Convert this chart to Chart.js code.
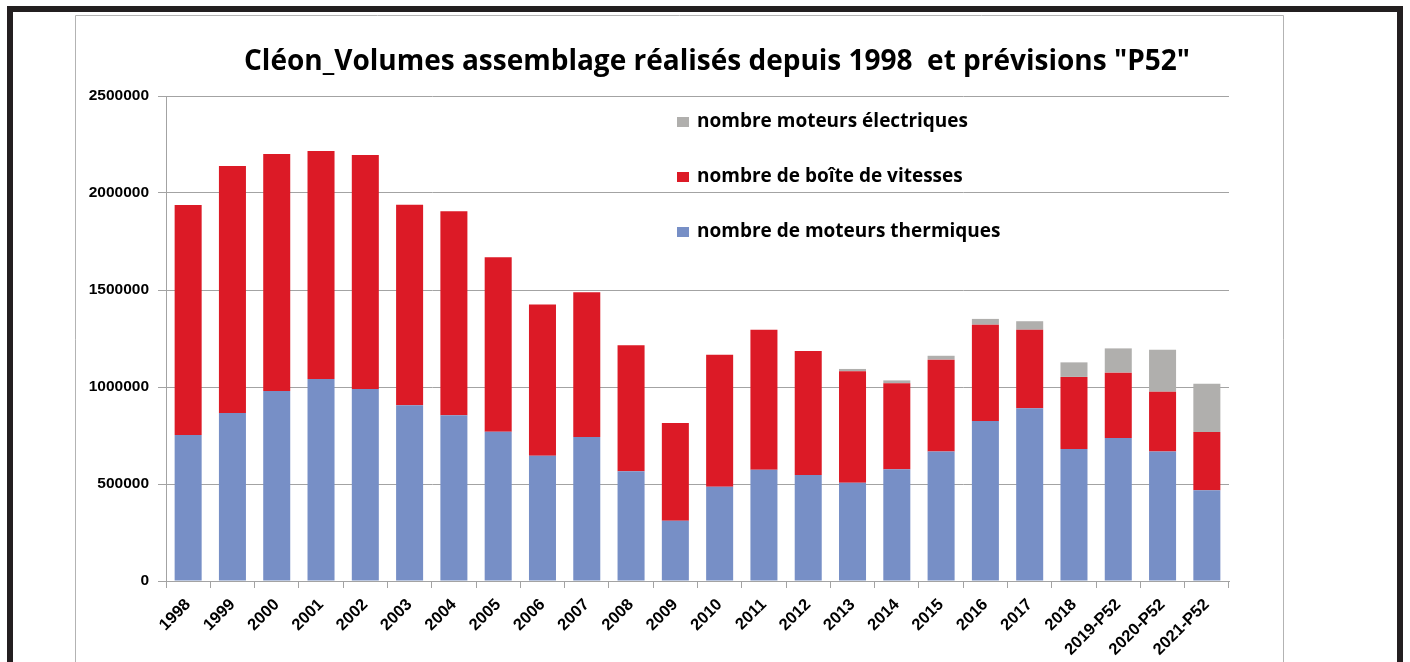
<!DOCTYPE html>
<html>
<head>
<meta charset="utf-8">
<script src="https://cdn.jsdelivr.net/npm/chart.js@4/dist/chart.umd.min.js"></script>
<style>
  body { margin: 0; background: #fff; }
  canvas { display: block; }
</style>
</head>
<body>
<canvas id="myChart" width="1410" height="662"></canvas>
<script>
let labels = ["1998","1999","2000","2001","2002","2003","2004","2005","2006","2007","2008","2009",
    "2010","2011","2012","2013","2014","2015","2016","2017","2018","2019-P52","2020-P52","2021-P52"];
let thermiques = [753000, 866000, 979000, 1041000, 990000, 906000, 855000, 769000, 645000, 742000, 566000, 310000,
    486000, 573000, 547000, 507000, 576000, 667000, 825000, 890000, 680000, 737000, 667000, 468000];
let boites = [1185000, 1273000, 1222000, 1175000, 1206000, 1034000, 1051000, 900000, 780000, 746000, 649000, 504000,
    680000, 722000, 639000, 574000, 443000, 474000, 496000, 405000, 372000, 337000, 309000, 300000];
let electriques = [0, 0, 0, 0, 0, 0, 0, 0, 0, 0, 0, 0,
    0, 0, 0, 12000, 15000, 20000, 30000, 44000, 75000, 125000, 216000, 249000];
let yTicks = [0, 500000, 1000000, 1500000, 2000000, 2500000];
let title = 'Cléon_Volumes assemblage réalisés depuis 1998  et prévisions "P52"';

let colors = { thermiques: '#778fc6', boites: '#dc1a26', electriques: '#b0afad' };
let gridColor = '#a3a3a3';

document.addEventListener('DOMContentLoaded', e => {
    let ctx = document.getElementById('myChart').getContext('2d');
    createChart(ctx, generateChartData(), generateChartOptions());
});

function generateChartData(){
    return {
        labels: labels,
        datasets: [
            { label: 'nombre de moteurs thermiques', data: thermiques, backgroundColor: colors.thermiques },
            { label: 'nombre de boîte de vitesses', data: boites, backgroundColor: colors.boites },
            { label: 'nombre moteurs électriques', data: electriques, backgroundColor: colors.electriques }
        ]
    }
}

// frame, title and the vertical legend are drawn by hand
let decorPlugin = {
    id: 'decor',
    beforeDraw(chart){
        let c = chart.ctx;
        c.save();
        c.fillStyle = '#fff';
        c.fillRect(0, 0, chart.width, chart.height);
        c.fillStyle = '#231f20';
        c.fillRect(7, 6, 1396, 6);
        c.fillRect(7, 6, 6, 700);
        c.fillRect(1397, 6, 6, 700);
        c.strokeStyle = '#b3b3b3';
        c.lineWidth = 1;
        c.beginPath();
        c.moveTo(75.5, 700); c.lineTo(75.5, 15.5); c.lineTo(1283.5, 15.5); c.lineTo(1283.5, 700);
        c.stroke();
        c.restore();
    },
    afterDraw(chart){
        let c = chart.ctx;
        c.save();
        c.fillStyle = '#000';
        c.font = 'bold 28px "Open Sans"';
        c.textAlign = 'center';
        c.textBaseline = 'middle';
        c.fillText(title, 717, 62);
        c.font = 'bold 19px "Open Sans"';
        c.textAlign = 'left';
        let ds = chart.data.datasets.slice().reverse();
        ds.forEach((d, i) => {
            let y = 122 + i * 55;
            c.fillStyle = d.backgroundColor;
            c.fillRect(677, y - 5, 12, 10);
            c.fillStyle = '#000';
            c.fillText(d.label, 697, y);
        });
        c.restore();
    }
};

function generateChartOptions(){
    return {
        responsive: false,
        animation: false,
        layout: { padding: { left: 76, right: 181, top: 96, bottom: 0 } },
        plugins: {
            legend: { display: false },
            title: { display: false },
            tooltip: { enabled: false }
        },
        datasets: { bar: { barPercentage: 0.61, categoryPercentage: 1 } },
        scales: {
            x: {
                stacked: true,
                afterFit: s => { s.height = 81; },
                grid: { drawOnChartArea: false, color: gridColor, tickLength: 7, offset: true },
                border: { color: gridColor },
                ticks: {
                    color: '#000', maxRotation: 45, minRotation: 45, autoSkip: false, padding: 7,
                    font: { family: '"Liberation Sans"', weight: 'bold', size: 16.5 }
                }
            },
            y: {
                stacked: true,
                min: 0,
                max: yTicks[yTicks.length - 1],
                afterFit: s => { s.width = 90; },
                afterBuildTicks: s => { s.ticks = yTicks.map(v => ({ value: v })); },
                grid: { color: gridColor, tickLength: 8 },
                border: { color: gridColor },
                ticks: {
                    color: '#000', padding: 9,
                    callback: v => String(v),
                    font: { family: '"Liberation Sans"', weight: 'bold', size: 15.5 }
                }
            }
        }
    };
}

function createChart(ctx, data, options){
    var myChart = new Chart(ctx, {
        type: 'bar',
        data: data,
        options: options,
        plugins: [decorPlugin]
    });
}
</script>
</body>
</html>
